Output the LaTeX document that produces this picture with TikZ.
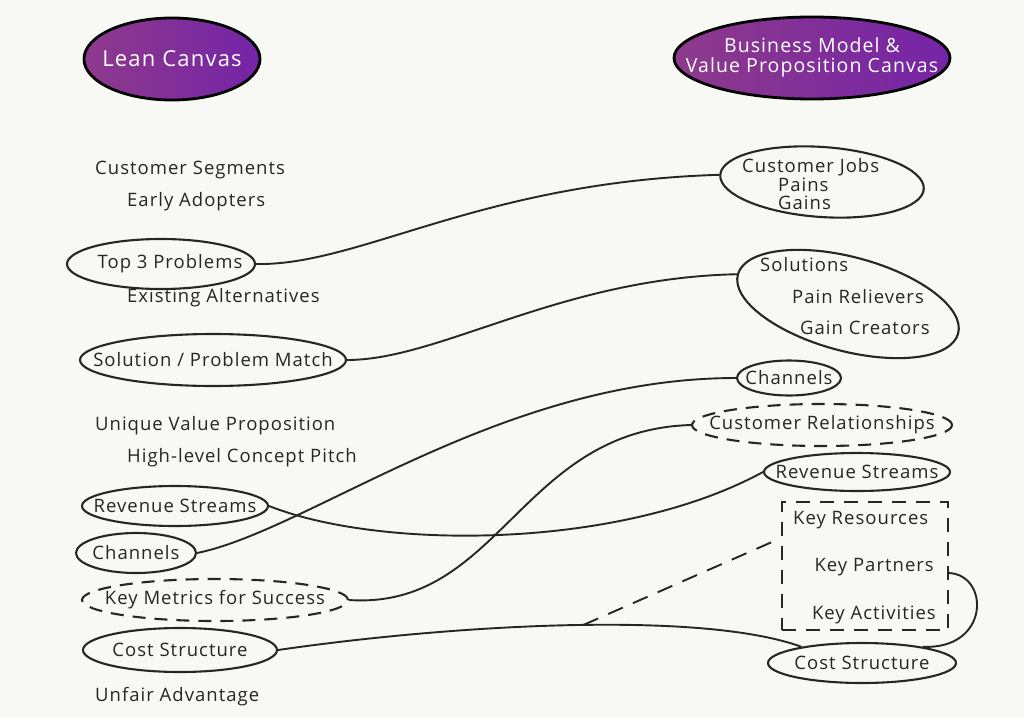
\documentclass[tikz,border=0pt]{standalone}
\usepackage{fontspec}
\setmainfont{Open Sans}[LetterSpace=5.5]
\usetikzlibrary{shapes.geometric}
\definecolor{paper}{HTML}{F8F8F4}
\definecolor{ink}{HTML}{262626}
\definecolor{blobL}{HTML}{8E3A8C}
\definecolor{blobR}{HTML}{7424A6}
\newcommand\hwfont{\fontsize{18.5}{20}\selectfont}
\newcommand\hwtitle{\fontsize{19.5}{20}\selectfont}
\newcommand\zb[1]{\makebox[0pt]{#1}}
\begin{document}
\begin{tikzpicture}[x=1pt,y=-1pt,
  lab/.style={font=\hwfont, text=ink, inner sep=0pt, anchor=west},
  oval/.style={ellipse, draw=ink, line width=2.1pt, inner sep=0pt, font=\hwfont, text=ink},
  doval/.style={oval, dash pattern=on 13pt off 9pt},
  blob/.style={ellipse, draw=black, line width=2.8pt, left color=blobL, right color=blobR, text=white, font=\hwtitle, inner sep=0pt},
  link/.style={draw=ink, line width=1.9pt},
  dlink/.style={link, dash pattern=on 16pt off 11pt},
  boxd/.style={draw=ink, line width=1.9pt, dash pattern=on 14pt off 10pt, inner sep=0pt}
]
\useasboundingbox (0,0) rectangle (1024,717);
\fill[paper] (0,0) rectangle (1024,717);

% titles
\node[blob, minimum width=176pt, minimum height=82pt, font=\fontsize{22}{22}\selectfont] (lean) at (172,59) {\zb{Lean Canvas}};
\node[blob, minimum width=276pt, minimum height=82pt] (bmc) at (812,58) {\zb{\begin{tabular}{@{}c@{}}Business Model \&\\Value Proposition Canvas\end{tabular}}};

% left column
\node[lab] (cs) at (95,170) {Customer Segments};
\node[lab] (ea) at (127,202) {Early Adopters};
\node[oval, minimum width=188pt, minimum height=50pt] (top3) at (161,264) {\zb{\hspace*{18pt}Top 3 Problems}};
\node[lab] (exalt) at (127,298) {Existing Alternatives};
\node[oval, minimum width=266pt, minimum height=52pt] (spm) at (213,360) {\zb{Solution / Problem Match}};
\node[lab] (uvp) at (95,426) {Unique Value Proposition};
\node[lab] (hlcp) at (127,458) {High-level Concept Pitch};
\node[oval, minimum width=186pt, minimum height=40pt] (revL) at (175,506) {\zb{Revenue Streams}};
\node[oval, minimum width=120pt, minimum height=40pt] (chL) at (136,553) {\zb{Channels}};
\node[doval, minimum width=266pt, minimum height=42pt] (kmL) at (215,600) {\zb{Key Metrics for Success}};
\node[oval, minimum width=194pt, minimum height=44pt] (costL) at (180,650) {\zb{Cost Structure}};
\node[lab] (ufa) at (95,697) {Unfair Advantage};

% right column
\node[oval, minimum width=204pt, minimum height=70pt, rotate=-4] (jobs) at (822,182) {};
\node[lab] (jobsA) at (742,167) {Customer Jobs};
\node[lab] (jobsB) at (778,185) {Pains};
\node[lab] (jobsC) at (778,203) {Gains};
\node[oval, minimum width=228pt, minimum height=94pt, rotate=-15] (sol) at (848,304) {};
\node[lab] (solA) at (760,265) {Solutions};
\node[lab] (solB) at (792,297) {Pain Relievers};
\node[lab] (solC) at (800,328) {Gain Creators};
\node[oval, minimum width=104pt, minimum height=35pt] (chR) at (789,378) {\zb{Channels}};
\node[doval, minimum width=260pt, minimum height=42pt] (crR) at (822,425) {\zb{Customer Relationships}};
\node[oval, minimum width=186pt, minimum height=38pt] (revR) at (857,472) {\zb{Revenue Streams}};
\node[boxd, minimum width=166pt, minimum height=128pt] (box) at (865,566) {};
\node[lab] (kr) at (793,520) {Key Resources};
\node[lab, anchor=east] (kp) at (934,567) {Key Partners};
\node[lab, anchor=east] (ka) at (936,615) {Key Activities};
\node[oval, minimum width=188pt, minimum height=40pt] (costR) at (862,663) {\zb{Cost Structure}};

% connectors
\draw[link] (top3.east) .. controls (360,266) and (480,182) .. (jobs.west);
\draw[link] (spm.east) .. controls (440,360) and (560,278) .. (sol.west);
\draw[link] (chL.east) .. controls (310,530) and (500,378) .. (chR.west);
\draw[link] (revL.east) .. controls (380,550) and (620,550) .. (revR.west);
\draw[link] (kmL.east) .. controls (500,610) and (520,430) .. (crR.west);
\draw[link] (costL.east) .. controls (450,625) and (700,610) .. coordinate[pos=0.53] (dstart) (costR.165);
\draw[dlink] (dstart) -- ([yshift=28pt]box.west);
\draw[link] ([yshift=-7pt]box.east) .. controls (990,575) and (990,650) .. (costR.15);
\end{tikzpicture}
\end{document}
